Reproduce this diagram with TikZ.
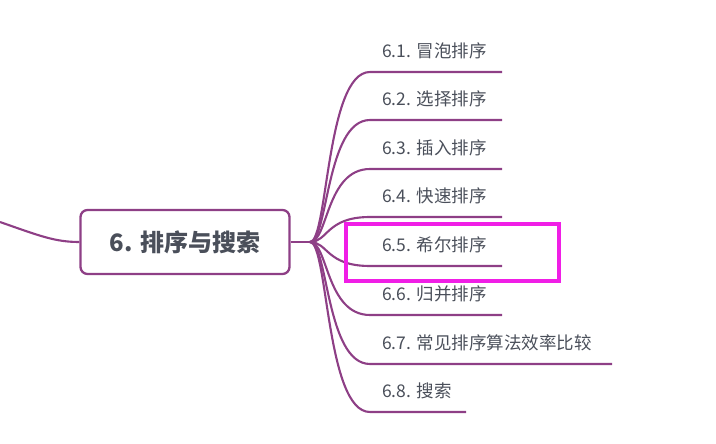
\documentclass[tikz,border=0pt]{standalone}
\usepackage{fontspec}
\setmainfont{Noto Sans CJK SC}
\definecolor{pur}{HTML}{8E3F86}
\definecolor{txt}{HTML}{4A4F5A}
\definecolor{mag}{HTML}{F01EE6}
\begin{document}
\begin{tikzpicture}[x=1pt,y=-1pt,
  br/.style={draw=pur,line width=2.1pt},
  lbl/.style={anchor=base west,text=txt,font=\fontsize{17.5}{19}\selectfont,inner sep=0pt}]
\useasboundingbox (0,0) rectangle (716,444);
\node[draw=pur,line width=2.3pt,rounded corners=7pt,minimum width=209pt,minimum height=64pt,text=txt,font=\fontsize{24}{25}\selectfont\bfseries] (c) at (185,242) {6. 排序与搜索};
\coordinate (h) at (310,242);
\coordinate (l0) at (0,222);
\draw[br] (l0) .. controls (40,236) and (55,242) .. (c.west);
\draw[br] (c.east) -- (h);
\foreach \i/\y/\e/\t in {1/72/502/冒泡排序,2/120/502/选择排序,3/169/502/插入排序,4/217/502/快速排序,5/266/502/希尔排序,6/315/502/归并排序,7/364/612/常见排序算法效率比较,8/412/466/搜索}{
  \coordinate (s\i) at (370,\y);
  \coordinate (e\i) at (\e,\y);
  \draw[br] (h) .. controls (328,242) and (326,\y) .. (s\i) -- (e\i);
  \node[lbl] (t\i) at (382,\y-14.5) {6.\i. \t};
}
\node[draw=mag,line width=4pt,minimum width=213pt,minimum height=57pt,inner sep=0pt] (hl) at (452,252) {};
\end{tikzpicture}
\end{document}
